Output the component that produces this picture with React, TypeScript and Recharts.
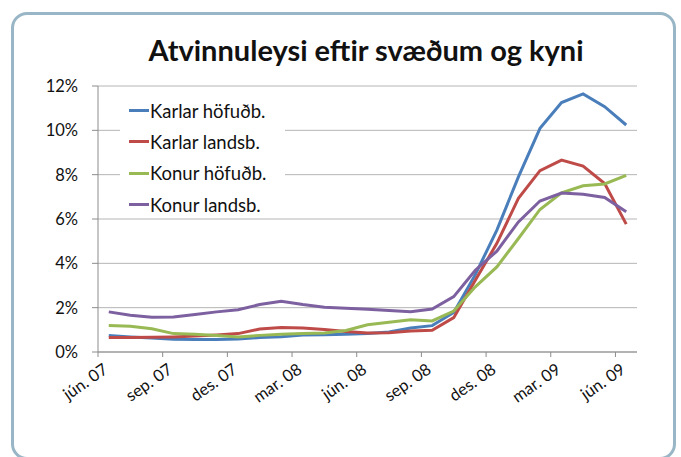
import { LineChart, Line, XAxis, YAxis, CartesianGrid, Legend } from "recharts";

const months = [
  "jún. 07", "júl. 07", "ágú. 07", "sep. 07", "okt. 07", "nóv. 07", "des. 07",
  "jan. 08", "feb. 08", "mar. 08", "apr. 08", "maí. 08", "jún. 08", "júl. 08",
  "ágú. 08", "sep. 08", "okt. 08", "nóv. 08", "des. 08", "jan. 09", "feb. 09",
  "mar. 09", "apr. 09", "maí. 09", "jún. 09",
];

const karlarHofudb = [0.75, 0.68, 0.63, 0.57, 0.56, 0.56, 0.59, 0.65, 0.69, 0.77, 0.78, 0.8, 0.83, 0.9, 1.08, 1.19, 1.78, 3.49, 5.5, 7.9, 10.09, 11.25, 11.64, 11.07, 10.24];
const karlarLandsb = [0.65, 0.65, 0.66, 0.68, 0.72, 0.77, 0.83, 1.04, 1.1, 1.08, 1.01, 0.93, 0.86, 0.87, 0.95, 0.98, 1.55, 3.24, 4.9, 6.93, 8.18, 8.66, 8.39, 7.6, 5.77];
const konurHofudb = [1.2, 1.16, 1.05, 0.83, 0.8, 0.74, 0.68, 0.75, 0.8, 0.84, 0.86, 0.97, 1.23, 1.34, 1.46, 1.4, 1.85, 2.94, 3.84, 5.12, 6.43, 7.18, 7.5, 7.58, 7.97];
const konurLandsb = [1.81, 1.66, 1.57, 1.58, 1.69, 1.81, 1.91, 2.14, 2.29, 2.14, 2.02, 1.97, 1.93, 1.87, 1.82, 1.94, 2.5, 3.69, 4.55, 5.87, 6.81, 7.17, 7.12, 6.97, 6.33];

const xTickLabels = ["jún. 07", "sep. 07", "des. 07", "mar. 08", "jún. 08", "sep. 08", "des. 08", "mar. 09", "jún. 09"];
const yTicks = [0, 2, 4, 6, 8, 10, 12];

const series = [
  { key: "karlarHofudb", name: "Karlar höfuðb.", color: "#4a7ebb" },
  { key: "karlarLandsb", name: "Karlar landsb.", color: "#be4b48" },
  { key: "konurHofudb", name: "Konur höfuðb.", color: "#98b954" },
  { key: "konurLandsb", name: "Konur landsb.", color: "#7d60a0" },
];

// category boundaries every third month, like the Excel date axis
const xTicks = xTickLabels.map((_, k) => k * 3 - 0.5);

const data = months.map((month, i) => ({
  i,
  month,
  karlarHofudb: karlarHofudb[i],
  karlarLandsb: karlarLandsb[i],
  konurHofudb: konurHofudb[i],
  konurLandsb: konurLandsb[i],
}));

const FONT = "Lato, 'Open Sans', sans-serif";

const XTick = ({ x, y, payload }: any) => {
  const idx = Math.round((payload.value + 0.5) / 3);
  return (
    <g transform={`translate(${x + 11},${y + 13})`}>
      <text
        x={0}
        y={0}
        textAnchor="end"
        transform="rotate(-35)"
        fontSize={16.5}
        fontFamily={FONT}
        fill="#111"
      >
        {xTickLabels[idx]}
      </text>
    </g>
  );
};

const LegendBox = () => (
  <div style={{ background: "#fff", width: 165, height: 130, paddingTop: 7, boxSizing: "border-box" }}>
    {series.map((s) => (
      <div key={s.key} style={{ display: "flex", alignItems: "center", height: 31.3, paddingLeft: 9 }}>
        <div style={{ width: 20, height: 3, background: s.color }} />
        <span style={{ fontFamily: FONT, fontSize: 18.5, color: "#111", marginLeft: 1 }}>{s.name}</span>
      </div>
    ))}
  </div>
);

export default function App() {
  return (
    <div style={{ position: "fixed", left: 0, top: 0, width: 681, height: 457, background: "#fff", overflow: "hidden" }}>
      <div
        style={{
          position: "absolute",
          left: 11,
          top: 12,
          width: 665,
          height: 448,
          border: "3px solid #98b6c6",
          borderRadius: 16,
          boxSizing: "border-box",
        }}
      />
      <div
        style={{
          position: "absolute",
          left: 0,
          width: 732,
          top: 33,
          textAlign: "center",
          fontFamily: FONT,
          fontWeight: 700,
          fontSize: 29,
          lineHeight: 1.2,
          color: "#111",
        }}
      >
        Atvinnuleysi eftir svæðum og kyni
      </div>
      <div style={{ position: "absolute", left: 0, top: 0 }}>
        <LineChart width={681} height={457} data={data} margin={{ top: 86, right: 44, bottom: 45, left: 0 }}>
          <CartesianGrid vertical={false} stroke="#b5b5b5" />
          <XAxis
            dataKey="i"
            type="number"
            domain={[-0.5, 24.5]}
            ticks={xTicks}
            interval={0}
            height={60}
            tickSize={5}
            stroke="#8c8c8c"
            tick={<XTick />}
          />
          <YAxis
            domain={[0, 12]}
            ticks={yTicks}
            width={98}
            tickSize={6}
            tickMargin={14}
            stroke="#8c8c8c"
            tickFormatter={(v) => `${v}%`}
            tick={{ fontSize: 16.5, fontFamily: FONT, fill: "#111" }}
          />
          <Legend
            layout="vertical"
            align="center"
            verticalAlign="middle"
            content={<LegendBox />}
            wrapperStyle={{ left: 120, top: 88, width: 165, height: 130 }}
          />
          {series.map((s) => (
            <Line
              key={s.key}
              dataKey={s.key}
              name={s.name}
              stroke={s.color}
              strokeWidth={3}
              dot={false}
              type="linear"
              isAnimationActive={false}
            />
          ))}
        </LineChart>
      </div>
    </div>
  );
}
